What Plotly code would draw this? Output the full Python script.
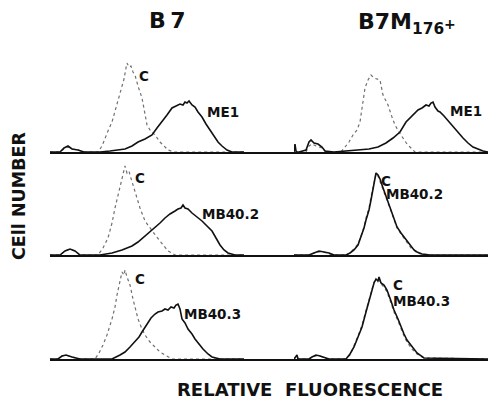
import plotly.graph_objects as go

# ---------------- data (channel, cell count) ----------------
# Row 1, B7: control (C) and ME1
b7_me1_c_x = [0, 10, 14, 18, 22, 28, 34, 48, 52, 55, 58, 62, 66, 70, 72, 74, 76, 77, 79, 81, 83, 85, 88, 92, 95, 97, 100, 102, 105, 110, 114, 118, 124, 194]
b7_me1_c_y = [0, 0, 3, 5, 3, 2, 0, 0, 6, 14, 21, 30, 44, 57, 64, 73, 84, 89, 85, 86, 80, 77, 66, 54, 38, 27, 22, 20, 17, 10, 6, 2, 0, 0]
b7_me1_x = [0, 10, 14, 18, 22, 28, 34, 50, 60, 68, 75, 82, 88, 95, 102, 107, 112, 117, 122, 126, 130, 133, 135, 137, 139, 142, 145, 148, 152, 156, 160, 164, 168, 172, 177, 182, 194]
b7_me1_y = [0, 0, 4, 6, 3, 2, 0, 0, 1, 2, 3, 6, 10, 13, 17, 24, 30, 37, 44, 46, 48, 47, 50, 49, 51, 47, 45, 40, 35, 28, 22, 16, 10, 6, 2, 0, 0]

# Row 1, B7M176+: control (C) and ME1
m_me1_c_x = [0, 12, 15, 18, 22, 28, 32, 40, 47, 51, 55, 59, 63, 66, 69, 71, 74, 77, 80, 83, 86, 89, 94, 98, 101, 105, 109, 113, 116, 121, 194]
m_me1_c_y = [0, 0, 6, 8, 6, 4, 0, 0, 0, 5, 10, 17, 22, 30, 50, 64, 72, 77, 74, 73, 72, 57, 47, 35, 27, 20, 14, 8, 5, 0, 0]
m_me1_x = [0, 1, 2, 3, 5, 12, 15, 17, 20, 24, 28, 31, 40, 55, 66, 75, 84, 92, 99, 106, 112, 119, 124, 128, 132, 135, 137, 139, 141, 144, 146, 150, 155, 159, 164, 169, 174, 179, 184, 189, 194]
m_me1_y = [0, 8, 1, 0, 0, 2, 10, 12, 9, 8, 5, 1, 0, 1, 2, 3, 5, 9, 14, 20, 30, 37, 42, 44, 47, 46, 49, 50, 45, 41, 40, 36, 30, 25, 19, 14, 9, 5, 3, 1, 0]

# Row 2, B7: control (C) and MB40.2
b7_mb2_c_x = [0, 10, 15, 20, 25, 30, 48, 53, 58, 62, 65, 68, 70, 72, 74, 75, 77, 79, 80, 82, 85, 88, 90, 95, 102, 106, 110, 114, 118, 125, 194]
b7_mb2_c_y = [0, 0, 4, 6, 4, 0, 0, 7, 17, 32, 47, 60, 67, 78, 85, 89, 82, 84, 80, 73, 64, 54, 47, 34, 24, 19, 14, 9, 4, 0, 0]
b7_mb2_x = [0, 10, 15, 20, 25, 30, 50, 62, 72, 82, 88, 95, 100, 105, 110, 115, 120, 125, 128, 131, 133, 135, 138, 142, 147, 152, 157, 162, 166, 170, 174, 178, 185, 194]
b7_mb2_y = [0, 0, 4, 6, 4, 0, 0, 2, 5, 9, 13, 19, 23, 27, 32, 37, 41, 44, 46, 47, 50, 47, 46, 42, 38, 34, 29, 24, 17, 10, 5, 2, 0, 0]

# Row 2, B7M176+: control (C) and MB40.2
m_mb2_x = [0, 15, 20, 25, 30, 35, 40, 52, 56, 60, 64, 67, 70, 72, 75, 77, 79, 81, 82, 84, 86, 88, 91, 94, 97, 100, 103, 107, 110, 114, 117, 120, 123, 128, 136, 194]
m_mb2_y = [0, 0, 2, 4, 3, 2, 0, 0, 2, 5, 10, 18, 27, 35, 45, 55, 66, 77, 82, 80, 76, 70, 62, 53, 45, 38, 28, 22, 18, 12, 8, 5, 3, 1, 0, 0]
m_mb2_c_y = [0, 0, 2, 3, 3, 1, 0, 0, 2, 6, 11, 19, 28, 37, 47, 58, 68, 78, 81, 79, 74, 69, 60, 52, 44, 36, 27, 21, 17, 11, 7, 5, 2, 1, 0, 0]

# Row 3, B7: control (C) and MB40.3
b7_mb3_c_x = [0, 8, 12, 16, 22, 30, 45, 49, 53, 57, 62, 65, 67, 70, 72, 74, 75, 77, 80, 83, 86, 88, 92, 95, 100, 105, 110, 115, 122, 194]
b7_mb3_c_y = [0, 0, 3, 4, 2, 0, 0, 6, 14, 24, 40, 52, 64, 78, 87, 84, 89, 82, 74, 60, 48, 40, 30, 24, 17, 12, 7, 4, 0, 0]
b7_mb3_x = [0, 8, 12, 16, 22, 30, 50, 62, 70, 75, 80, 85, 89, 92, 95, 98, 101, 105, 108, 112, 115, 118, 121, 124, 126, 128, 130, 132, 135, 138, 142, 145, 149, 153, 158, 162, 170, 194]
b7_mb3_y = [0, 0, 3, 4, 2, 0, 0, 0, 4, 7, 12, 17, 22, 27, 32, 37, 41, 45, 47, 48, 50, 49, 52, 51, 54, 55, 50, 40, 36, 30, 25, 20, 15, 10, 5, 2, 0, 0]

# Row 3, B7M176+: control (C) and MB40.3
m_mb3_x = [0, 3, 4, 15, 18, 22, 26, 30, 35, 52, 56, 60, 64, 68, 72, 75, 78, 80, 82, 84, 85, 87, 90, 93, 97, 100, 104, 107, 110, 113, 118, 123, 130, 194]
m_mb3_y = [0, 4, 0, 0, 2, 4, 3, 2, 0, 0, 5, 12, 22, 32, 47, 59, 70, 76, 80, 78, 82, 76, 74, 69, 58, 49, 40, 32, 25, 19, 12, 6, 1, 0]
m_mb3_c_y = [0, 3, 0, 0, 2, 3, 3, 1, 0, 0, 4, 13, 23, 34, 48, 60, 71, 77, 79, 77, 81, 75, 72, 67, 56, 47, 38, 30, 23, 17, 10, 5, 1, 0]

col_titles = ["B&#8201;7", "B7M<sub>176</sub><span style='font-size:14px'>+</span>"]
y_title = "CEll NUMBER"
x_title = "RELATIVE&nbsp;&nbsp;FLUORESCENCE"

panel_labels = [
    # (row, col, text, channel, count)
    (1, 1, "C", 87, 76), (1, 1, "ME1", 155, 40),
    (1, 2, "ME1", 154, 41),
    (2, 1, "C", 83, 77), (2, 1, "MB40.2", 150, 41),
    (2, 2, "C", 85, 74), (2, 2, "MB40.2", 90, 61),
    (3, 1, "C", 83, 80), (3, 1, "MB40.3", 132, 45),
    (3, 2, "C", 97, 74), (3, 2, "MB40.3", 97, 58),
]

# ---------------- layout geometry (pixels) ----------------
W, H = 488, 400
baselines = [152, 255, 359]
panel_h = 100
left_x0, split_x = 50, 294

FONT = "DejaVu Sans"
solid = dict(color="#111111", width=1.6)
dotted = dict(color="#707070", width=1.2, dash="dot")

fig = go.Figure()

panels = [
    (1, 1, b7_me1_c_x, b7_me1_c_y, b7_me1_x, b7_me1_y),
    (1, 2, m_me1_c_x, m_me1_c_y, m_me1_x, m_me1_y),
    (2, 1, b7_mb2_c_x, b7_mb2_c_y, b7_mb2_x, b7_mb2_y),
    (2, 2, m_mb2_x, m_mb2_c_y, m_mb2_x, m_mb2_y),
    (3, 1, b7_mb3_c_x, b7_mb3_c_y, b7_mb3_x, b7_mb3_y),
    (3, 2, m_mb3_x, m_mb3_c_y, m_mb3_x, m_mb3_y),
]

layout_axes = {}
for r, c, cx, cy, sx, sy in panels:
    idx = (r - 1) * 2 + c
    xa = "x" if idx == 1 else f"x{idx}"
    ya = "y" if idx == 1 else f"y{idx}"
    fig.add_trace(go.Scatter(x=cx, y=cy, mode="lines", line=dotted,
                             xaxis=xa, yaxis=ya, showlegend=False, hoverinfo="skip"))
    fig.add_trace(go.Scatter(x=sx, y=sy, mode="lines", line=solid,
                             xaxis=xa, yaxis=ya, showlegend=False, hoverinfo="skip"))
    yb = baselines[r - 1]
    if c == 1:
        xdom = [left_x0 / W, split_x / W]
        xrng = [0, split_x - left_x0]
    else:
        xdom = [split_x / W, 1.0]
        xrng = [0, W - split_x]
    ydom = [(H - yb) / H, (H - yb + panel_h) / H]
    layout_axes["xaxis" if idx == 1 else f"xaxis{idx}"] = dict(
        domain=xdom, range=xrng, anchor=ya, showline=True, linecolor="#111111",
        linewidth=1.6, showgrid=False, zeroline=False, showticklabels=False, ticks="")
    layout_axes["yaxis" if idx == 1 else f"yaxis{idx}"] = dict(
        domain=ydom, range=[0, panel_h], anchor=xa, showline=False, showgrid=False,
        zeroline=False, showticklabels=False, ticks="")

annotations = []
for r, c, txt, ch, cnt in panel_labels:
    idx = (r - 1) * 2 + c
    annotations.append(dict(
        text=f"<b>{txt}</b>", x=ch, y=cnt,
        xref="x" if idx == 1 else f"x{idx}", yref="y" if idx == 1 else f"y{idx}",
        xanchor="left", yanchor="middle", showarrow=False,
        font=dict(family=FONT, size=13.5, color="#111111")))

annotations.append(dict(text=f"<b>{col_titles[0]}</b>", x=167 / W, y=1 - 21 / H,
                        xref="paper", yref="paper", xanchor="center", yanchor="middle",
                        showarrow=False, font=dict(family=FONT, size=22, color="#111111")))
annotations.append(dict(text=f"<b>{col_titles[1]}</b>", x=356 / W, y=1 - 23 / H,
                        xref="paper", yref="paper", xanchor="left", yanchor="middle",
                        showarrow=False, font=dict(family=FONT, size=22, color="#111111")))
annotations.append(dict(text=f"<b>{y_title}</b>", x=19 / W, y=1 - 196 / H, textangle=-90,
                        xref="paper", yref="paper", xanchor="center", yanchor="middle",
                        showarrow=False, font=dict(family=FONT, size=17.5, color="#111111")))
annotations.append(dict(text=f"<b>{x_title}</b>", x=310 / W, y=1 - 389 / H,
                        xref="paper", yref="paper", xanchor="center", yanchor="middle",
                        showarrow=False, font=dict(family=FONT, size=18, color="#111111")))

fig.update_layout(width=W, height=H, margin=dict(l=0, r=0, t=0, b=0),
                  paper_bgcolor="white", plot_bgcolor="white",
                  annotations=annotations, **layout_axes)

fig.write_html("out.html")
